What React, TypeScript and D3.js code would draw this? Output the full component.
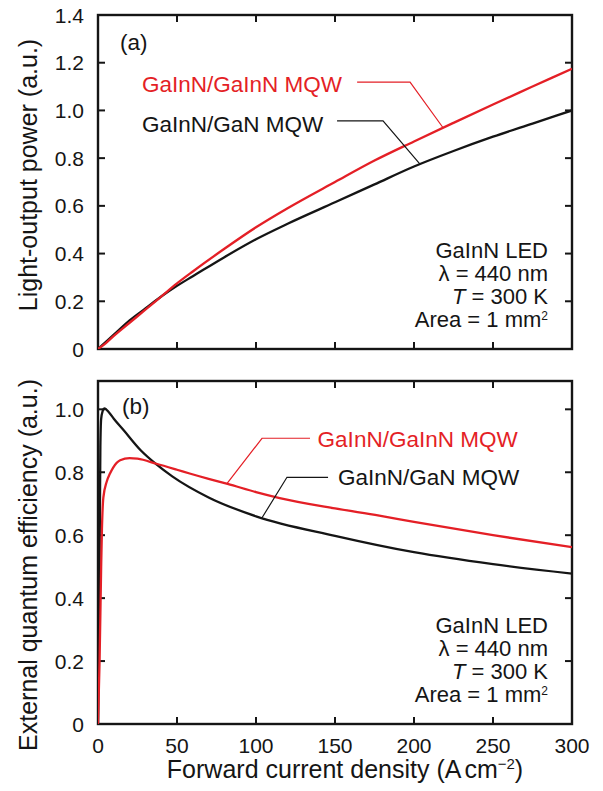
import React from 'react';
import * as d3 from 'd3';

// panel (a): light-output power vs current density
const currentA = [0, 5, 10, 20, 30, 40, 50, 60, 80, 100, 120, 150, 175, 200, 225, 250, 275, 300];
const powerGaN = [0, 0.03, 0.06, 0.12, 0.17, 0.22, 0.265, 0.305, 0.385, 0.46, 0.525, 0.615, 0.69, 0.765, 0.83, 0.89, 0.945, 1.0];
const powerGaInN = [0, 0.025, 0.055, 0.11, 0.165, 0.22, 0.275, 0.325, 0.42, 0.51, 0.59, 0.7, 0.79, 0.87, 0.948, 1.025, 1.1, 1.175];

// panel (b): external quantum efficiency
const currentGaN = [0, 1, 1.5, 2, 3, 4, 7, 10, 16, 27, 37, 47, 70, 100, 150, 200, 250, 300];
const eqeGaN = [0, 0.5, 0.88, 0.97, 0.995, 1.003, 0.99, 0.97, 0.935, 0.87, 0.825, 0.787, 0.72, 0.66, 0.598, 0.546, 0.508, 0.478];
const currentGaInN = [0, 1, 2, 2.5, 3.4, 5.5, 7.5, 9.6, 14, 20, 25, 37, 50, 58, 70, 82, 100, 115, 150, 178, 200, 250, 300];
const eqeGaInN = [0, 0.2, 0.5, 0.62, 0.72, 0.77, 0.795, 0.815, 0.838, 0.845, 0.843, 0.827, 0.808, 0.796, 0.779, 0.763, 0.737, 0.718, 0.685, 0.662, 0.642, 0.6, 0.562];

const xTicks = [0, 50, 100, 150, 200, 250, 300];
const powerTicks = [0, 0.2, 0.4, 0.6, 0.8, 1.0, 1.2, 1.4];
const eqeTicks = [0, 0.2, 0.4, 0.6, 0.8, 1.0];

const RED = '#e41f26';
const BLACK = '#151515';
const FONT = '"Liberation Sans", Arial, Helvetica, sans-serif';

const W = 603;
const H = 791;
const left = 98;
const right = 572;

const x = d3.scaleLinear().domain([0, 300]).range([left, right]);
const yA = d3.scaleLinear().domain([0, 1.4]).range([349, 15]);
const yB = d3.scaleLinear().domain([0, 1.09]).range([724, 381]);

const zip = (xs: number[], ys: number[]) => xs.map((v, i) => [v, ys[i]] as [number, number]);
const interp = (xs: number[], ys: number[], v: number) => {
  const i = d3.bisectLeft(xs, v);
  if (i <= 0) return ys[0];
  if (i >= xs.length) return ys[ys.length - 1];
  const t = (v - xs[i - 1]) / (xs[i] - xs[i - 1]);
  return ys[i - 1] + t * (ys[i] - ys[i - 1]);
};

const fmt = (d: number) => (d === 0 ? '0' : d.toFixed(1));

function Frame({ y, ticks, clipId }: { y: d3.ScaleLinear<number, number>; ticks: number[]; clipId: string }) {
  const [y0, y1] = y.range();
  const tl = 7;
  return (
    <g>
      <defs>
        <clipPath id={clipId}>
          <rect x={left} y={y1} width={right - left} height={y0 - y1} />
        </clipPath>
      </defs>
      {xTicks.slice(1, -1).map(t => (
        <g key={'x' + t}>
          <line x1={x(t)} x2={x(t)} y1={y0} y2={y0 - tl} stroke={BLACK} strokeWidth={2} />
          <line x1={x(t)} x2={x(t)} y1={y1} y2={y1 + tl} stroke={BLACK} strokeWidth={2} />
        </g>
      ))}
      {ticks.map(t => (
        <g key={'y' + t}>
          <line x1={left} x2={left + tl} y1={y(t)} y2={y(t)} stroke={BLACK} strokeWidth={2} />
          <line x1={right} x2={right - tl} y1={y(t)} y2={y(t)} stroke={BLACK} strokeWidth={2} />
          <text x={84} y={y(t)} dy="0.36em" textAnchor="end" fontSize={21} fill={BLACK}>
            {fmt(t)}
          </text>
        </g>
      ))}
      <rect x={left} y={y1} width={right - left} height={y0 - y1} fill="none" stroke={BLACK} strokeWidth={2.4} />
    </g>
  );
}

function Conditions({ bottom }: { bottom: number }) {
  const xr = 548;
  return (
    <g fontSize={22} fill={BLACK} textAnchor="end">
      <text x={xr} y={bottom - 91}>GaInN LED</text>
      <text x={xr} y={bottom - 68}>λ = 440 nm</text>
      <text x={xr} y={bottom - 45}>
        <tspan fontStyle="italic">T</tspan> = 300 K
      </text>
      <text x={xr} y={bottom - 22}>
        Area = 1 mm<tspan fontSize={12} dy={-7}>2</tspan>
      </text>
    </g>
  );
}

export default function App() {
  const lineA = d3.line<[number, number]>().x(d => x(d[0])).y(d => yA(d[1])).curve(d3.curveMonotoneX);
  const lineB = d3.line<[number, number]>().x(d => x(d[0])).y(d => yB(d[1])).curve(d3.curveMonotoneX);

  // leader lines, data coordinates
  const leadA_red: [number, number][] = [[164, 1.119], [197.5, 1.119], [218.4, interp(currentA, powerGaInN, 218.4)]];
  const leadA_blk: [number, number][] = [[151.3, 0.956], [180.4, 0.956], [203.8, interp(currentA, powerGaN, 203.8)]];
  const leadB_red: [number, number][] = [[134.2, 0.908], [103.8, 0.908], [81.6, interp(currentGaInN, eqeGaInN, 81.6)]];
  const leadB_blk: [number, number][] = [[145.6, 0.784], [119.6, 0.784], [103.8, interp(currentGaN, eqeGaN, 103.8)]];
  const lead = (pts: [number, number][], y: d3.ScaleLinear<number, number>) =>
    pts.map(p => `${x(p[0])},${y(p[1])}`).join(' ');

  return (
    <svg width={W} height={H} style={{ position: 'absolute', left: 0, top: 0, background: '#fff' }} fontFamily={FONT}>
      {/* panel (a) */}
      <Frame y={yA} ticks={powerTicks} clipId="clipA" />
      <g clipPath="url(#clipA)" fill="none" strokeWidth={2.3}>
        <path d={lineA(zip(currentA, powerGaN)) || ''} stroke={BLACK} />
        <path d={lineA(zip(currentA, powerGaInN)) || ''} stroke={RED} />
      </g>
      <polyline points={lead(leadA_red, yA)} fill="none" stroke={RED} strokeWidth={1.2} />
      <polyline points={lead(leadA_blk, yA)} fill="none" stroke={BLACK} strokeWidth={1.2} />
      <text x={x(27.8)} y={yA(1.077)} fontSize={22.5} fill={RED}>GaInN/GaInN MQW</text>
      <text x={x(27.8)} y={yA(0.909)} fontSize={22.5} fill={BLACK}>GaInN/GaN MQW</text>
      <text x={120} y={50} fontSize={22.5} fill={BLACK}>(a)</text>
      <Conditions bottom={yA(0)} />
      <text transform={`translate(37,${(yA(0) + yA(1.4)) / 2 - 7}) rotate(-90)`} textAnchor="middle" fontSize={25} fill={BLACK}>
        Light-output power (a.u.)
      </text>

      {/* panel (b) */}
      <Frame y={yB} ticks={eqeTicks} clipId="clipB" />
      <g clipPath="url(#clipB)" fill="none" strokeWidth={2.3}>
        <path d={lineB(zip(currentGaN, eqeGaN)) || ''} stroke={BLACK} />
        <path d={lineB(zip(currentGaInN, eqeGaInN)) || ''} stroke={RED} />
      </g>
      <polyline points={lead(leadB_red, yB)} fill="none" stroke={RED} strokeWidth={1.2} />
      <polyline points={lead(leadB_blk, yB)} fill="none" stroke={BLACK} strokeWidth={1.2} />
      <text x={x(139)} y={yB(0.879)} fontSize={22.5} fill={RED}>GaInN/GaInN MQW</text>
      <text x={x(151.9)} y={yB(0.759)} fontSize={22.5} fill={BLACK}>GaInN/GaN MQW</text>
      <text x={122} y={414} fontSize={22.5} fill={BLACK}>(b)</text>
      <Conditions bottom={yB(0)} />
      <text transform={`translate(37,565) rotate(-90)`} textAnchor="middle" fontSize={25} fill={BLACK}>
        External quantum efficiency (a.u.)
      </text>

      {xTicks.map(t => (
        <text key={t} x={x(t)} y={753} textAnchor="middle" fontSize={21} fill={BLACK}>
          {t}
        </text>
      ))}
      <text x={345} y={778} textAnchor="middle" fontSize={25} fill={BLACK}>
        Forward current density (A
        <tspan dx={3}>cm</tspan>
        <tspan fontSize={15} dy={-9}>−2</tspan>
        <tspan dy={9}>)</tspan>
      </text>
    </svg>
  );
}
